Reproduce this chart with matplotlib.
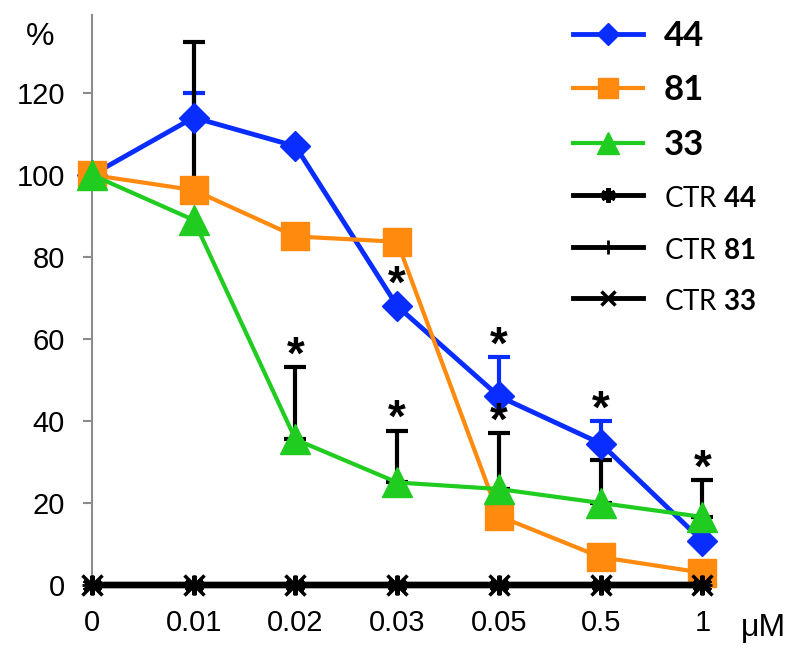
import numpy as np
import matplotlib
matplotlib.use('Agg')
from matplotlib import pyplot as plt

plt.rcParams['font.family'] = ['Liberation Sans', 'DejaVu Sans']
plt.rcParams['mathtext.fontset'] = 'custom'
plt.rcParams['mathtext.rm'] = 'Lato'
plt.rcParams['mathtext.bf'] = 'Lato:bold'

# data
doses = ['0', '0.01', '0.02', '0.03', '0.05', '0.5', '1']
v44 = [100, 114, 107, 68, 46, 34.5, 10.7]
e44 = [0, 6, 0, 0, 9.5, 5.5, 0]
v81 = [100, 96.3, 85, 83.7, 16.8, 6.8, 3]
e81 = [0, 36, 0, 0, 0, 0, 0]
v33 = [100, 89, 35.5, 25, 23.4, 20, 16.6]
e33 = [0, 0, 17.6, 12.6, 13.6, 10.5, 9]
ctr = [0, 0, 0, 0, 0, 0, 0]
star44 = [0, 0, 0, 1, 1, 1, 0]
star33 = [0, 0, 1, 1, 1, 0, 1]

blue = '#0a2dff'
orange = '#ff8a0d'
green = '#1fcc1f'

x = np.arange(len(doses))

fig = plt.figure(figsize=(8, 6.61), dpi=100)
ax = fig.add_axes([92/800, 76/661, 641/800, 570/661])

def errs(vals, err, col):
    vals = np.array(vals); err = np.array(err)
    m = err > 0
    ax.errorbar(x[m], vals[m], yerr=[np.zeros(m.sum()), err[m]], fmt='none',
                ecolor=col, elinewidth=3, capsize=8, capthick=3, zorder=1,
                clip_on=False)

errs(v44, e44, blue)
errs(v81, e81, 'black')
errs(v33, e33, 'black')

l44, = ax.plot(x, v44, color=blue, lw=3.5, marker='D', ms=15, zorder=3, clip_on=False, label='44')
l81, = ax.plot(x, v81, color=orange, lw=3, marker='s', ms=20, zorder=4, clip_on=False, label='81')
l33, = ax.plot(x, v33, color=green, lw=3, marker='^', ms=21, zorder=5, clip_on=False, label='33')
c44, = ax.plot(x, ctr, color='black', lw=4.5, marker=(6, 2, 0), ms=14, mew=3, zorder=6, clip_on=False, label='CTR $\\mathbf{44}$')
c81, = ax.plot(x, ctr, color='black', lw=4.5, marker='+', ms=14, mew=2, zorder=6, clip_on=False, label='CTR $\\mathbf{81}$')
c33, = ax.plot(x, ctr, color='black', lw=4.5, marker='x', ms=14, mew=2.5, zorder=6, clip_on=False, label='CTR $\\mathbf{33}$')

# significance stars
for vals, err, st in [(v44, e44, star44), (v33, e33, star33)]:
    for i in range(len(doses)):
        if st[i]:
            top = vals[i] + err[i]
            off = -1 if err[i] > 0 else 6
            ax.annotate('*', (x[i], top), xytext=(0, off), textcoords='offset points',
                        ha='center', va='baseline', fontsize=33, fontweight='bold')

ax.set_xlim(0, 6.3)
ax.set_ylim(0, 139)
ax.set_yticks(np.arange(0, 140, 20))
ax.set_xticks(x)
ax.set_xticklabels(doses)
ax.tick_params(axis='x', length=0, pad=17, labelsize=21)
ax.tick_params(axis='y', length=6.5, width=1.5, color='#8c8c8c', pad=13, labelsize=21)
for s in ['top', 'right', 'bottom']:
    ax.spines[s].set_visible(False)
ax.spines['left'].set_color('#8c8c8c')
ax.spines['left'].set_linewidth(1.5)

fig.text(40/800, 1 - 37/661, '%', fontsize=23, ha='center', va='center')
fig.text(741/800, 1 - 628/661, '\u03bcM', fontsize=23, ha='left', va='center')

leg = ax.legend(handles=[l44, l81, l33, c44, c81, c33], loc='upper left',
                bbox_to_anchor=(542/800, 1 + 11/661), bbox_transform=fig.transFigure,
                frameon=False, handlelength=2.0, handletextpad=0.6,
                labelspacing=0.64, markerscale=0.75,
                prop={'family': 'Lato', 'weight': 'bold', 'size': 25})
for t in leg.get_texts()[3:]:
    t.set_fontweight('normal')
    t.set_fontsize(20)
for h in leg.legend_handles[3:]:
    h.set_linewidth(3.5)

fig.savefig('out.png', dpi=100)
